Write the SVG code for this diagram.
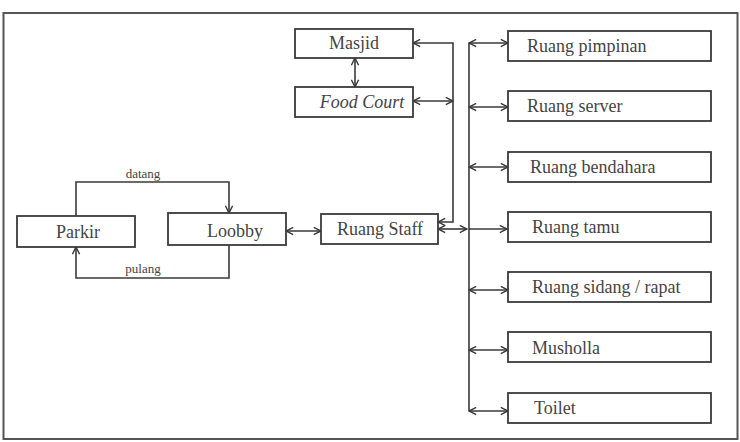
<svg xmlns="http://www.w3.org/2000/svg" width="740" height="442" viewBox="0 0 740 442">
<defs>
<style>
.box{fill:#fff;stroke:#3a3a3a;stroke-width:1.8}
.t{font-size:18px;fill:#444}
.s{font-size:13px;fill:#444;text-anchor:middle}
.c{fill:none;stroke:#3a3a3a;stroke-width:1.6}
.a{marker-end:url(#ah)}
.b{marker-start:url(#ah);marker-end:url(#ah)}
</style>
<marker id="ah" viewBox="0 0 10 10" refX="9" refY="5" markerWidth="9" markerHeight="9" markerUnits="userSpaceOnUse" orient="auto-start-reverse">
<path d="M1,1 L9,5 L1,9" fill="none" stroke="#3a3a3a" stroke-width="1.6"/>
</marker>
</defs>
<rect x="0" y="0" width="740" height="442" fill="#fff"/>
<rect x="3.5" y="13" width="734" height="426" fill="none" stroke="#555" stroke-width="2"/>

<g id="connectors" font-family="Liberation Serif, DejaVu Serif, serif">
<path class="c a" d="M76,216 V182 H229 V213"/>
<path class="c a" d="M229,245 V278 H76 V247"/>
<path class="c b" d="M286,231 H321"/>
<path class="c b" d="M413,43 H453 V222 H438"/>
<path class="c b" d="M413,101 H453"/>
<path class="c b" d="M355,58 V87"/>
<path class="c b" d="M438,229 H467"/>
<path class="c" d="M469,43 V411"/>
<path class="c b" d="M469,43 H508"/>
<path class="c b" d="M469,107 H508"/>
<path class="c b" d="M469,167 H508"/>
<path class="c a" d="M469,229 H507"/>
<path class="c b" d="M469,290 H508"/>
<path class="c b" d="M469,350 H508"/>
<path class="c b" d="M469,411 H508"/>
<text class="s" x="143" y="178">datang</text>
<text class="s" x="143" y="273">pulang</text>
</g>

<g id="nodes" font-family="Liberation Serif, DejaVu Serif, serif">
<g id="parkir"><rect class="box" x="17" y="216" width="118" height="31"/><text class="t" x="78" y="238" text-anchor="middle">Parkir</text></g>
<g id="loobby"><rect class="box" x="168" y="213" width="118" height="32"/><text class="t" x="235" y="237" text-anchor="middle">Loobby</text></g>
<g id="staff"><rect class="box" x="321" y="214" width="117" height="30"/><text class="t" x="380" y="235" text-anchor="middle">Ruang Staff</text></g>
<g id="masjid"><rect class="box" x="295" y="29" width="118" height="29"/><text class="t" x="354" y="49" text-anchor="middle">Masjid</text></g>
<g id="foodcourt"><rect class="box" x="295" y="87" width="118" height="30"/><text class="t" x="362" y="108" text-anchor="middle" font-style="italic">Food Court</text></g>

<g id="pimpinan"><rect class="box" x="508" y="31" width="203" height="30"/><text class="t" x="527" y="52">Ruang pimpinan</text></g>
<g id="server"><rect class="box" x="508" y="91" width="203" height="30"/><text class="t" x="527" y="112">Ruang server</text></g>
<g id="bendahara"><rect class="box" x="508" y="152" width="203" height="30"/><text class="t" x="530" y="173">Ruang bendahara</text></g>
<g id="tamu"><rect class="box" x="508" y="212" width="203" height="30"/><text class="t" x="532" y="233">Ruang tamu</text></g>
<g id="sidang"><rect class="box" x="508" y="272" width="203" height="30"/><text class="t" x="532" y="293">Ruang sidang / rapat</text></g>
<g id="musholla"><rect class="box" x="508" y="332" width="203" height="30"/><text class="t" x="532" y="354">Musholla</text></g>
<g id="toilet"><rect class="box" x="508" y="393" width="203" height="30"/><text class="t" x="534" y="414">Toilet</text></g>
</g>
</svg>
